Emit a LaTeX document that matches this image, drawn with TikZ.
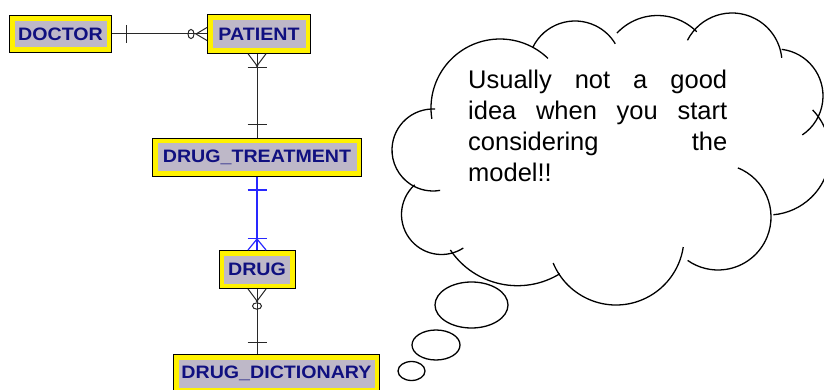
\documentclass[tikz,border=0pt]{standalone}
\usepackage{fontspec}
\usepackage{graphicx}
\setmainfont{Liberation Sans}
\usetikzlibrary{calc}

\definecolor{boxgrey}{RGB}{190,184,200}
\definecolor{entitytext}{RGB}{16,16,128}
\definecolor{linkblue}{RGB}{40,40,255}
\definecolor{linkgrey}{RGB}{40,40,40}

\newcommand{\entname}[1]{\scalebox{1.09}[1]{#1}}
% one bump of the cloud: centre x, centre y, radius, start angle, end angle
\newcommand{\cloudbump}[5]{\draw[cloudline] (#1,#2) ++(#4:#3) arc[start angle=#4, end angle=#5, radius=#3];}

\begin{document}
\begin{tikzpicture}[x=1pt, y=-1pt,
  entity/.style={fill=boxgrey, draw=yellow, line width=4.5pt,
    preaction={draw=black, line width=6.5pt},
    inner sep=0pt, outer sep=3.25pt, text=entitytext,
    font=\bfseries\fontsize{18}{18}\selectfont},
  rel/.style={draw=linkgrey, line width=1pt},
  relblue/.style={draw=linkblue, line width=1.2pt},
  cloudline/.style={draw=black, line width=1.3pt},
  bubble/.style={draw=black, line width=1.3pt}]

\useasboundingbox (0,0) rectangle (824,390);

% entities
\node[entity, minimum width=96.5pt, minimum height=31pt]  (DOCTOR)  at (60.5,34)   {\entname{DOCTOR}};
\node[entity, minimum width=97.5pt, minimum height=33pt]  (PATIENT) at (259,34)    {\entname{PATIENT}};
\node[entity, minimum width=203.5pt, minimum height=32.5pt] (DT)    at (257,157.5) {\entname{DRUG\_TREATMENT}};
\node[entity, minimum width=70.5pt, minimum height=32.5pt] (DRUG)   at (257,269.5) {\entname{DRUG}};
\node[entity, minimum width=200.5pt, minimum height=32.5pt] (DD)    at (276.5,373.5) {\entname{DRUG\_DICTIONARY}};

% DOCTOR -- PATIENT : one to zero-or-many
\draw[rel] (DOCTOR.east) -- (PATIENT.west);
\draw[rel] (DOCTOR.east) ++(14,-9) -- ++(0,18);
\draw[rel] (PATIENT.west) ++(-16,0) ellipse[x radius=3, y radius=4.6];
\draw[rel] (PATIENT.west) ++(0,-6.5) -- ++(-11,6.5) -- ++(11,6.5);

% PATIENT -- DRUG_TREATMENT : one to one-or-many
\coordinate (ptop) at (DT.north |- PATIENT.south);
\draw[rel] (ptop) -- (DT.north);
\draw[rel] (ptop) ++(-9,0) -- ++(9,12) -- ++(9,-12);
\draw[rel] (ptop) ++(-9.5,13.5) -- ++(19,0);
\fill[linkgrey] (ptop) ++(0,12) circle[radius=1.4];
\draw[rel] (DT.north) ++(-9.5,-13) -- ++(19,0);

% DRUG_TREATMENT -- DRUG : one-or-many to one
\draw[relblue] (DT.south) -- (DRUG.north);
\draw[relblue] (DT.south) ++(-9.5,13) -- ++(19,0);
\draw[relblue] (DRUG.north) ++(-9,0) -- ++(9,-11) -- ++(9,11);
\draw[relblue] (DRUG.north) ++(-9.5,-11.5) -- ++(19,0);
\fill[linkblue] (DRUG.north) ++(0,-11) circle[radius=1.4];

% DRUG -- DRUG_DICTIONARY : zero-or-many to one
\coordinate (dbot) at (DRUG.south |- DD.north);
\draw[rel] (DRUG.south) -- (dbot);
\draw[rel] (DRUG.south) ++(-9,0) -- ++(9,12) -- ++(9,-12);
\fill[linkgrey] (DRUG.south) ++(0,12) circle[radius=1.4];
\draw[rel] (DRUG.south) ++(0,17) ellipse[x radius=4.5, y radius=3.2];
\draw[rel] (dbot) ++(-9.5,-12) -- ++(19,0);

% thought cloud, built from overlapping arcs
\cloudbump{433}{150}{41}{273}{80}
\cloudbump{500}{108}{69}{171}{314}
\cloudbump{575}{68}{47}{206}{329}
\cloudbump{657.5}{71}{55.5}{223}{315}
\cloudbump{732}{63}{50}{207}{354}
\cloudbump{776}{96}{47}{277}{416}
\cloudbump{768}{153}{62}{316}{445}
\cloudbump{718}{217}{53}{292}{485}
\cloudbump{616}{237}{68}{157.5}{8.5}
\cloudbump{517.5}{204.7}{81}{146}{58.5}
\cloudbump{441.5}{214.5}{40}{228}{57}

% trailing bubbles
\draw[bubble] (471.5,305) ellipse[x radius=36.5, y radius=23];
\draw[bubble] (436,345) ellipse[x radius=24, y radius=15];
\draw[bubble] (411.5,371) ellipse[x radius=13.5, y radius=9.5];

% cloud text
\node[anchor=base west, inner sep=0pt, font=\fontsize{25.5}{30.9}\selectfont] (note) at (468,89)
  {\parbox[t]{259pt}{\makebox[259pt][s]{Usually not a good}\\
   \makebox[259pt][s]{idea when you start}\\
   \makebox[259pt][s]{considering the}\\
   model!!}};
\end{tikzpicture}
\end{document}
